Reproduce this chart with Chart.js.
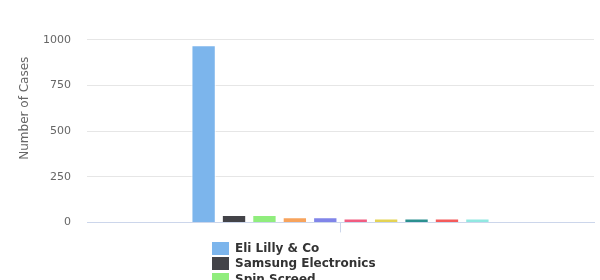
<!DOCTYPE html>
<html>
<head>
<meta charset="utf-8">
<script src="https://cdn.jsdelivr.net/npm/chart.js@4.4.1/dist/chart.umd.min.js"></script>
<style>
  html, body { margin: 0; padding: 0; width: 600px; height: 280px; overflow: hidden; background: #fff; }
  #wrap { position: absolute; left: 0; top: -30px; width: 600px; height: 275px; }
  #legend { position: absolute; left: 212px; top: 241px; font-family: "DejaVu Sans", sans-serif; font-weight: bold; font-size: 12px; color: #333; }
  .item { height: 15.3px; line-height: 15px; white-space: nowrap; position: relative; }
  .sw { position: absolute; left: 0; top: 1px; width: 17px; height: 13px; }
  .lbl { position: absolute; left: 23px; top: 0; }
</style>
</head>
<body>
<div id="wrap"><canvas id="c" width="600" height="275"></canvas></div>
<div id="legend"></div>
<script>
const categories = ["Cases"];
const seriesNames = ["Eli Lilly & Co", "Samsung Electronics", "Spin Screed", "Series 4", "Series 5", "Series 6", "Series 7", "Series 8", "Series 9", "Series 10"];
const seriesValues = [970, 40, 40, 28, 28, 22, 22, 22, 22, 22];
const seriesColors = ["#7cb5ec", "#434348", "#90ed7d", "#f7a35c", "#8085e9", "#f15c80", "#e4d354", "#2b908f", "#f45b5b", "#91e8e1"];
const yTicks = [0, 250, 500, 750, 1000, 1250];

const datasets = seriesNames.map((name, i) => ({
  label: name,
  data: [seriesValues[i]],
  backgroundColor: seriesColors[i],
  borderColor: "#ffffff",
  borderWidth: 1,
  categoryPercentage: 0.6,
  barPercentage: 0.8
}));

const chart = new Chart(document.getElementById("c"), {
  type: "bar",
  data: { labels: categories, datasets },
  options: {
    responsive: false,
    animation: false,
    events: [],
    layout: { padding: { left: 0, right: 6, top: 24, bottom: 0 } },
    plugins: { legend: { display: false }, tooltip: { enabled: false } },
    scales: {
      x: {
        grid: { offset: false, drawOnChartArea: false, drawTicks: true, tickLength: 10, color: "#ccd6eb" },
        border: { display: true, color: "#ccd6eb", width: 1 },
        ticks: { display: false },
        afterFit: s => { s.height = 10; }
      },
      y: {
        min: yTicks[0],
        max: yTicks[yTicks.length - 1],
        afterBuildTicks: s => { s.ticks = yTicks.map(v => ({ value: v })); },
        ticks: { color: "#666666", padding: 16, font: { family: "DejaVu Sans", size: 11 }, callback: v => String(v) },
        grid: { color: "#e6e6e6", drawTicks: false },
        border: { display: false },
        title: { display: true, text: "Number of Cases", color: "#666666", padding: { top: 18, bottom: 0 }, font: { family: "DejaVu Sans", size: 12 } },
        afterFit: s => { s.width = 87; }
      }
    }
  }
});

const leg = document.getElementById("legend");
chart.data.datasets.forEach(ds => {
  const it = document.createElement("div");
  it.className = "item";
  const sw = document.createElement("span");
  sw.className = "sw";
  sw.style.background = ds.backgroundColor;
  const lb = document.createElement("span");
  lb.className = "lbl";
  lb.textContent = ds.label;
  it.appendChild(sw); it.appendChild(lb);
  leg.appendChild(it);
});
</script>
</body>
</html>
